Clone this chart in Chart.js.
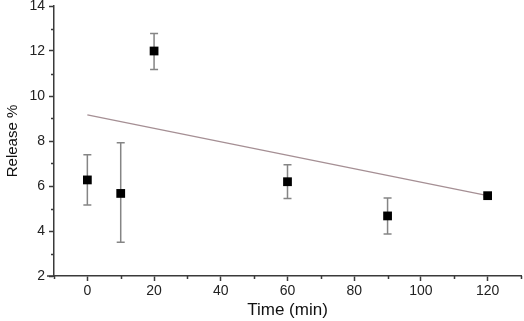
<!DOCTYPE html>
<html>
<head>
<meta charset="utf-8">
<script src="https://cdn.jsdelivr.net/npm/chart.js@4.4.1/dist/chart.umd.min.js"></script>
<style>
  html, body { margin: 0; padding: 0; background: #fff; }
  #wrap { width: 524px; height: 321px; }
</style>
</head>
<body>
<div id="wrap"><canvas id="chart1" width="524" height="321"></canvas></div>
<script>
// data
var times = [0, 10, 20, 60, 90, 120];
var release = [6.27, 5.67, 12.0, 6.19, 4.67, 5.57];
var errUp = [7.39, 7.92, 12.78, 6.95, 5.47, 5.62];
var errDown = [5.16, 3.5, 11.18, 5.45, 3.87, 5.52];
var fitX = [0, 120];
var fitY = [9.16, 5.57];
var xTicks = [0, 20, 40, 60, 80, 100, 120];
var yTicks = [2, 4, 6, 8, 10, 12, 14];
var xMinor = [-10, 10, 30, 50, 70, 90, 110, 130];
var yMinor = [3, 5, 7, 9, 11, 13];

var axisColor = "#3a3a3a";
var font = "'Liberation Sans', Arial, sans-serif";

var extrasPlugin = {
  id: "extras",
  beforeDatasetsDraw: function (chart) {
    // error bars, behind the squares
    var ctx = chart.ctx;
    var xs = chart.scales.x, ys = chart.scales.y;
    ctx.save();
    ctx.strokeStyle = "#858585";
    ctx.lineWidth = 1.5;
    for (var i = 0; i < times.length; i++) {
      var px = xs.getPixelForValue(times[i]);
      var top = ys.getPixelForValue(errUp[i]);
      var bot = ys.getPixelForValue(errDown[i]);
      ctx.beginPath();
      ctx.moveTo(px, top); ctx.lineTo(px, bot);
      ctx.moveTo(px - 4, top); ctx.lineTo(px + 4, top);
      ctx.moveTo(px - 4, bot); ctx.lineTo(px + 4, bot);
      ctx.stroke();
    }
    ctx.restore();
  },
  afterDraw: function (chart) {
    var ctx = chart.ctx;
    var xs = chart.scales.x, ys = chart.scales.y;
    var area = chart.chartArea;
    ctx.save();
    ctx.strokeStyle = axisColor;
    ctx.lineWidth = 1.5;
    ctx.beginPath();
    xMinor.forEach(function (v) {
      var p = Math.round(xs.getPixelForValue(v)) + 0.5;
      ctx.moveTo(p, area.bottom); ctx.lineTo(p, area.bottom + 3);
    });
    yMinor.forEach(function (v) {
      var p = Math.round(ys.getPixelForValue(v)) + 0.5;
      ctx.moveTo(area.left, p); ctx.lineTo(area.left - 3, p);
    });
    // x axis line runs a little past the y axis
    ctx.moveTo(area.left - 7, area.bottom); ctx.lineTo(area.left, area.bottom);
    ctx.stroke();
    ctx.restore();
  }
};

var ctx = document.getElementById("chart1").getContext("2d");
var chart = new Chart(ctx, {
  type: "scatter",
  data: {
    datasets: [
      {
        label: "fit",
        data: fitX.map(function (x, i) { return { x: x, y: fitY[i] }; }),
        showLine: true,
        borderColor: "#a58f94",
        borderWidth: 1.3,
        pointRadius: 0,
        order: 2
      },
      {
        label: "Release",
        data: times.map(function (t, i) { return { x: t, y: release[i] }; }),
        pointStyle: "rect",
        pointRadius: 6.2,
        backgroundColor: "#000",
        borderColor: "#000",
        borderWidth: 0,
        order: 1
      }
    ]
  },
  options: {
    responsive: false,
    animation: false,
    devicePixelRatio: 1,
    layout: { autoPadding: false, padding: { top: 6, right: 3, left: 0, bottom: 0 } },
    plugins: { legend: { display: false }, tooltip: { enabled: false } },
    scales: {
      x: {
        type: "linear",
        min: -10,
        max: 130,
        afterBuildTicks: function (scale) {
          scale.ticks = xTicks.map(function (v) { return { value: v }; });
        },
        afterFit: function (scale) {
          scale.height = 45;
          scale.paddingLeft = 0; scale.paddingRight = 0;
        },
        grid: { drawOnChartArea: false, drawTicks: true, tickLength: 5, tickColor: axisColor, tickWidth: 1.5 },
        border: { display: true, color: axisColor, width: 1.5 },
        ticks: { color: "#222", font: { family: font, size: 14 }, padding: 2, maxRotation: 0 },
        title: { display: true, text: "Time (min)", color: "#111", font: { family: font, size: 17 }, padding: { top: 3, bottom: 0 } }
      },
      y: {
        type: "linear",
        min: 2,
        max: 14,
        afterBuildTicks: function (scale) {
          scale.ticks = yTicks.map(function (v) { return { value: v }; });
        },
        afterFit: function (scale) {
          scale.width = 54;
          scale.paddingTop = 0; scale.paddingBottom = 0;
        },
        grid: { drawOnChartArea: false, drawTicks: true, tickLength: 5, tickColor: axisColor, tickWidth: 1.5 },
        border: { display: true, color: axisColor, width: 1.5 },
        ticks: { color: "#222", font: { family: font, size: 14 }, padding: 4 },
        title: { display: true, text: "Release %", color: "#111", font: { family: font, size: 15 }, padding: { top: 4, bottom: 0 } }
      }
    }
  },
  plugins: [extrasPlugin]
});
</script>
</body>
</html>
